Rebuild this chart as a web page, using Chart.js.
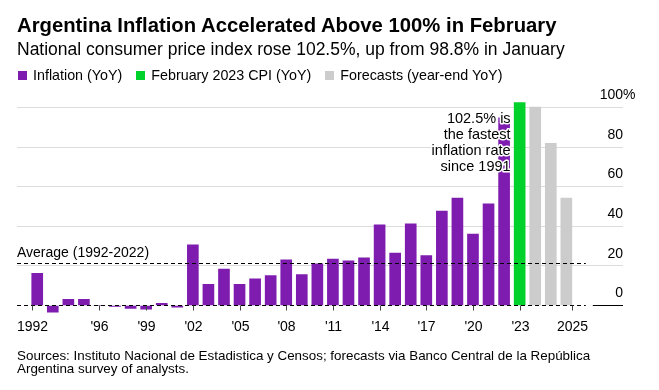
<!DOCTYPE html>
<html lang="en">
<head>
  <meta charset="UTF-8">
  <title>Argentina Inflation Accelerated Above 100% in February</title>
  <script src="https://cdn.jsdelivr.net/npm/chart.js"></script>
  <style>
    body { margin: 0; font-family: "Liberation Sans", Arial, sans-serif; background: #fff; color: #000; }
    #wrap { position: relative; width: 659px; height: 390px; overflow: hidden; }
    #chart { position: absolute; left: 0; top: 0; }
    .txt { position: absolute; left: 17px; white-space: nowrap; }
    #title { top: 14.8px; font-size: 20.3px; line-height: 20px; font-weight: bold; }
    #subtitle { top: 40.9px; font-size: 17.5px; line-height: 17.5px; }
    #legend { top: 68px; font-size: 14.3px; line-height: 14px; display: flex; }
    #legend span.sw { display: inline-block; width: 9px; height: 9px; margin: 2.5px 6px 0 1px; vertical-align: top; }
    #legend .item { margin-right: 13px; }
    #footer { top: 348.6px; font-size: 13.4px; line-height: 13.3px; }
  </style>
</head>
<body>
<div id="wrap">
  <canvas id="chart" width="659" height="390"></canvas>
  <div class="txt" id="title">Argentina Inflation Accelerated Above 100% in February</div>
  <div class="txt" id="subtitle">National consumer price index rose 102.5%, up from 98.8% in January</div>
  <div class="txt" id="legend"></div>
  <div class="txt" id="footer">Sources: Instituto Nacional de Estadistica y Censos; forecasts via Banco Central de la República<br>Argentina survey of analysts.</div>
</div>
<script>
  // categories: yearly values, then the Feb 2023 print, then year-end forecasts
  const years = ['1992', '1993', '1994', '1995', '1996', '1997', '1998', '1999', '2000', '2001',
                 '2002', '2003', '2004', '2005', '2006', '2007', '2008', '2009', '2010', '2011',
                 '2012', '2013', '2014', '2015', '2016', '2017', '2018', '2019', '2020', '2021', '2022'];
  const febLabel = ['Feb 2023'];
  const forecastYears = ['2023', '2024', '2025'];

  // series (% YoY)
  const inflation = [16.3, -3.4, 3.1, 3.1, 0, -0.5, -1.5, -1.9, 1.1, -0.8,
                     30.6, 10.7, 18.4, 10.7, 13.5, 15.1, 23.0, 15.6, 21.1, 23.5,
                     22.5, 24.1, 40.7, 26.5, 41.2, 25.2, 47.7, 54.3, 36.1, 51.3, 94.8];
  const feb2023 = [102.5];
  const forecasts = [100.2, 81.9, 54.3];
  const average = 21.3;

  // x axis tick labels (category -> text)
  const tickCats = ['1992', '1996', '1999', '2002', '2005', '2008', '2011', '2014', '2017', '2020', 'Feb 2023', '2025'];
  const tickText = ['1992', "'96", "'99", "'02", "'05", "'08", "'11", "'14", "'17", "'20", "'23", '2025'];
  const yTicks = [0, 20, 40, 60, 80, 100];

  const PURPLE = '#7e1cb0', GREEN = '#00d12b', GREY = '#cccccc';
  const FONT = '"Liberation Sans", Arial, sans-serif';

  const categories = years.concat(febLabel, forecastYears);
  const values = inflation.concat(feb2023, forecasts);
  const colors = values.map((v, i) => i < inflation.length ? PURPLE : (i < inflation.length + feb2023.length ? GREEN : GREY));

  // legend
  const legendItems = [['Inflation (YoY)', PURPLE], ['February 2023 CPI (YoY)', GREEN], ['Forecasts (year-end YoY)', GREY]];
  document.getElementById('legend').innerHTML = legendItems.map(([t, c]) =>
    '<span class="item"><span class="sw" style="background:' + c + '"></span>' + t + '</span>').join('');

  const overlay = {
    id: 'overlay',
    afterDatasetsDraw(chart) {
      const { ctx, chartArea: area, scales: { x, y } } = chart;
      const last = categories.length - 1;
      const dashEnd = x.getPixelForValue(last + 1.25);
      ctx.save();

      // dashed zero and average lines
      ctx.strokeStyle = '#000';
      ctx.lineWidth = 1.2;
      ctx.setLineDash([4, 3]);
      [0, average].forEach(v => {
        const py = Math.round(y.getPixelForValue(v)) + 0.5;
        ctx.beginPath(); ctx.moveTo(area.left, py); ctx.lineTo(dashEnd, py); ctx.stroke();
      });
      ctx.setLineDash([]);
      const y0 = Math.round(y.getPixelForValue(0)) + 0.5;
      ctx.lineWidth = 1;
      ctx.beginPath(); ctx.moveTo(x.getPixelForValue(last + 1.7), y0); ctx.lineTo(area.right, y0); ctx.stroke();

      // x ticks + labels
      ctx.font = '14px ' + FONT;
      ctx.fillStyle = '#000';
      ctx.textAlign = 'center';
      ctx.textBaseline = 'alphabetic';
      tickCats.forEach((c, i) => {
        let idx = categories.indexOf(c);
        if (i === 0) idx -= 0.32;
        if (i === tickCats.length - 1) idx += 0.38;
        const px = Math.round(x.getPixelForValue(idx)) + 0.5;
        ctx.strokeStyle = '#444';
        ctx.beginPath(); ctx.moveTo(px, y0); ctx.lineTo(px, y0 + 5); ctx.stroke();
        ctx.fillText(tickText[i], px, y0 + 25);
      });

      // y labels, above gridlines, right aligned
      yTicks.forEach(v => {
        const py = y.getPixelForValue(v) - 8.2;
        ctx.textAlign = 'right';
        ctx.fillText(String(v), area.right, py);
        if (v === yTicks[yTicks.length - 1]) { ctx.textAlign = 'left'; ctx.fillText('%', area.right, py); }
      });

      // average label
      ctx.textAlign = 'left';
      ctx.fillText('Average (1992-2022)', area.left, y.getPixelForValue(average) - 6);

      // annotation with white halo
      const ann = ['102.5% is', 'the fastest', 'inflation rate', 'since 1991'];
      ctx.font = '14.5px ' + FONT;
      ctx.textAlign = 'right';
      ctx.lineJoin = 'round';
      const ax = x.getPixelForValue(inflation.length - 1) + 6.5;
      ann.forEach((t, i) => {
        const py = y.getPixelForValue(92.3) + i * 16;
        ctx.strokeStyle = '#fff'; ctx.lineWidth = 3;
        ctx.strokeText(t, ax, py);
        ctx.fillText(t, ax, py);
      });
      ctx.restore();
    }
  };

  new Chart(document.getElementById('chart'), {
    type: 'bar',
    data: {
      datasets: [{
        label: 'Inflation (YoY)',
        data: values.map((v, i) => ({ x: i, y: v })),
        backgroundColor: colors,
        barThickness: 11,
        borderWidth: 0
      }]
    },
    options: {
      responsive: false,
      devicePixelRatio: 1,
      animation: false,
      layout: { padding: { left: 17, right: 36, top: 97.6, bottom: 75.6 } },
      plugins: { legend: { display: false }, tooltip: { enabled: false } },
      scales: {
        x: {
          type: 'linear', min: -1.3, max: 37.64, offset: false,
          grid: { display: false }, border: { display: false },
          ticks: { display: false },
          afterFit: s => { s.height = 0; }
        },
        y: {
          position: 'right', min: -4.5, max: 105,
          afterBuildTicks: s => { s.ticks = yTicks.map(v => ({ value: v })); },
          grid: { color: c => c.tick.value === 0 ? 'rgba(0,0,0,0)' : '#dcdcdc', drawTicks: false, lineWidth: 1 },
          border: { display: false },
          ticks: { display: false },
          afterFit: s => { s.width = 0; }
        }
      }
    },
    plugins: [overlay]
  });
</script>
</body>
</html>
